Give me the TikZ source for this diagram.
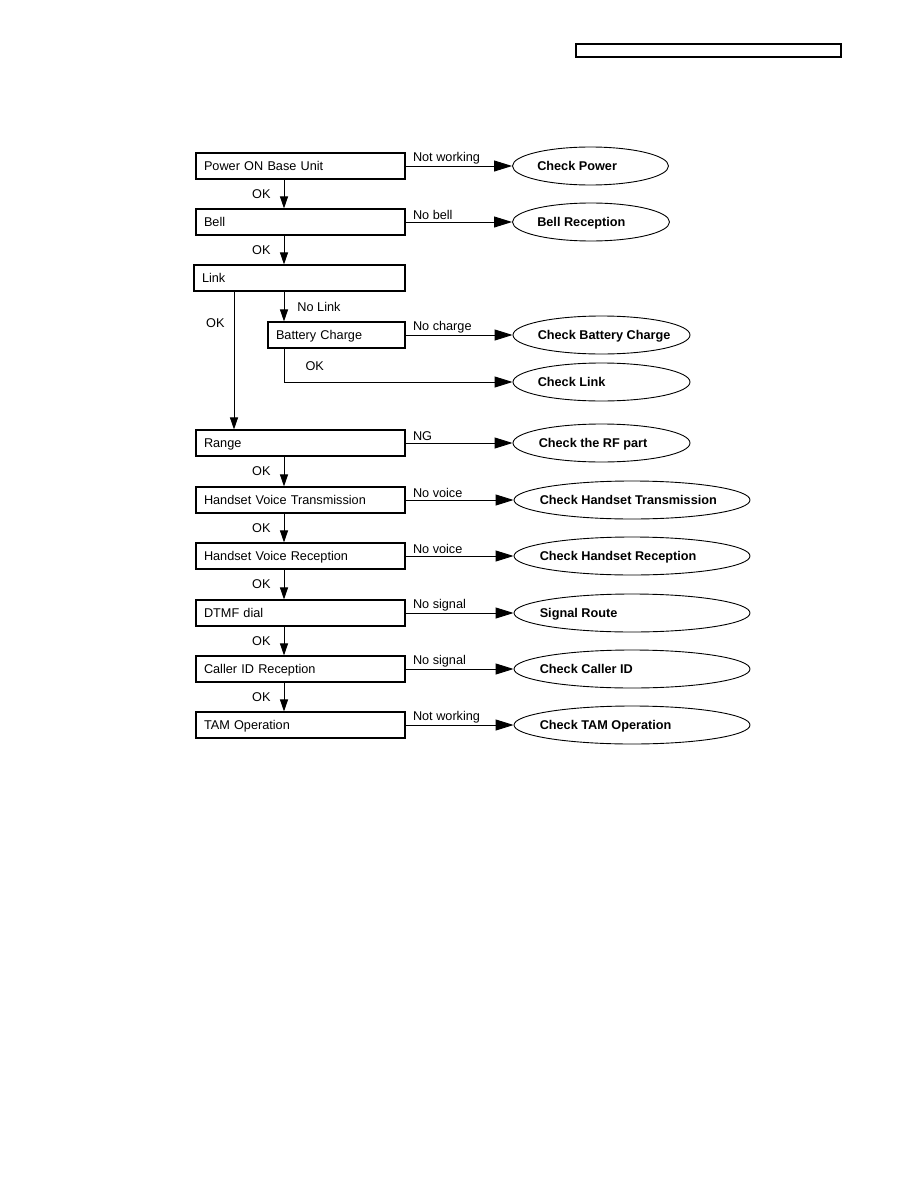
\documentclass[tikz,border=0pt]{standalone}
\usepackage{fontspec}
\setmainfont{Liberation Sans}
\usepackage{tikz}
\usetikzlibrary{shapes.geometric, arrows.meta, positioning, calc}
\newcommand{\diagfont}{\fontsize{12.7}{15}\selectfont}

\begin{document}
\begin{tikzpicture}[x=1pt, y=-1pt,
    stepbox/.style={draw, line width=1.1pt, rectangle, minimum height=26pt, text width=193pt,
      inner xsep=8pt, inner ysep=0pt, align=left, font=\diagfont, text height=9.1pt, text depth=0pt},
    chk/.style={draw, ellipse, line width=0.9pt, minimum height=38pt, inner sep=0pt},
    chktxt/.style={anchor=west, inner sep=0pt, font=\diagfont\bfseries, text height=9.1pt, text depth=0pt},
    harr/.style={line width=0.9pt, -{Triangle[length=18pt, width=11pt]}},
    varr/.style={line width=0.9pt, -{Triangle[length=12pt, width=8pt]}},
    lbl/.style={font=\diagfont, inner sep=1pt, anchor=south west, xshift=6pt, yshift=0.7pt},
    oklbl/.style={font=\diagfont, inner sep=1pt, anchor=east, xshift=-12pt}]
        \useasboundingbox (0,0) rectangle (918,1188);

        % header strip
        \draw[line width=1.1pt] (576,44) rectangle (841,57);

        % test steps
        \node[stepbox] (pwr) at (300.5,166) {Power ON Base Unit};
        \node[stepbox] (bell) at (300.5,222) {Bell};
        \node[stepbox, text width=195pt] (link) at (299.5,278) {Link};
        \node[stepbox, text width=121pt] (batt) at (336.5,335) {Battery Charge};
        \node[stepbox] (range) at (300.5,443) {Range};
        \node[stepbox] (hvt) at (300.5,500) {Handset Voice Transmission};
        \node[stepbox] (hvr) at (300.5,556) {Handset Voice Reception};
        \node[stepbox] (dtmf) at (300.5,613) {DTMF dial};
        \node[stepbox] (cid) at (300.5,669) {Caller ID Reception};
        \node[stepbox] (tam) at (300.5,725) {TAM Operation};

        % checks
        \node[chk, minimum width=156pt] (cpwr) at (590.5,166) {};
        \node[chktxt] (cpwrt) at ([xshift=25pt]cpwr.west) {Check Power};
        \node[chk, minimum width=157pt] (cbell) at (591,222) {};
        \node[chktxt] (cbellt) at ([xshift=25pt]cbell.west) {Bell Reception};
        \node[chk, minimum width=177pt] (cbatt) at (601.5,335) {};
        \node[chktxt] (cbattt) at ([xshift=25pt]cbatt.west) {Check Battery Charge};
        \node[chk, minimum width=177pt] (clink) at (601.5,382) {};
        \node[chktxt] (clinkt) at ([xshift=25pt]clink.west) {Check Link};
        \node[chk, minimum width=177pt] (crf) at (601.5,443) {};
        \node[chktxt] (crft) at ([xshift=26pt]crf.west) {Check the RF part};
        \node[chk, minimum width=236pt] (chvt) at (632,500) {};
        \node[chktxt] (chvtt) at ([xshift=26pt]chvt.west) {Check Handset Transmission};
        \node[chk, minimum width=236pt] (chvr) at (632,556) {};
        \node[chktxt] (chvrt) at ([xshift=26pt]chvr.west) {Check Handset Reception};
        \node[chk, minimum width=236pt] (csig) at (632,613) {};
        \node[chktxt] (csigt) at ([xshift=26pt]csig.west) {Signal Route};
        \node[chk, minimum width=236pt] (ccid) at (632,669) {};
        \node[chktxt] (ccidt) at ([xshift=26pt]ccid.west) {Check Caller ID};
        \node[chk, minimum width=236pt] (ctam) at (632,725) {};
        \node[chktxt] (ctamt) at ([xshift=26pt]ctam.west) {Check TAM Operation};

        % fault branches
        \draw[harr] (pwr) -- node[lbl, pos=0] (l1) {Not working} (cpwr);
        \draw[harr] (bell) -- node[lbl, pos=0] (l2) {No bell} (cbell);
        \draw[harr] (batt) -- node[lbl, pos=0] (l3) {No charge} (cbatt);
        \draw[harr] (range) -- node[lbl, pos=0] (l4) {NG} (crf);
        \draw[harr] (hvt) -- node[lbl, pos=0] (l5) {No voice} (chvt);
        \draw[harr] (hvr) -- node[lbl, pos=0] (l6) {No voice} (chvr);
        \draw[harr] (dtmf) -- node[lbl, pos=0] (l7) {No signal} (csig);
        \draw[harr] (cid) -- node[lbl, pos=0] (l8) {No signal} (ccid);
        \draw[harr] (tam) -- node[lbl, pos=0] (l9) {Not working} (ctam);

        % OK chain
        \coordinate (ax) at (284,0);
        \coordinate (bx) at (234,0);
        \draw[varr] (pwr.south -| ax) -- node[oklbl] (ok1) {OK} (bell.north -| ax);
        \draw[varr] (bell.south -| ax) -- node[oklbl] (ok2) {OK} (link.north -| ax);
        \draw[varr] (link.south -| ax) -- node[font=\diagfont, inner sep=1pt, anchor=west, xshift=12pt] (nolink) {No Link} (batt.north -| ax);
        \draw[harr] (batt.south -| ax) |- node[font=\diagfont, inner sep=1pt, anchor=south west, pos=0.544, yshift=9.5pt] (ok3) {OK} (clink.west);
        \draw[varr] (link.south -| bx) -- node[font=\diagfont, inner sep=1pt, anchor=east, pos=0.23, xshift=-8pt] (ok4) {OK} (range.north -| bx);
        \draw[varr] (range.south -| ax) -- node[oklbl] (ok5) {OK} (hvt.north -| ax);
        \draw[varr] (hvt.south -| ax) -- node[oklbl] (ok6) {OK} (hvr.north -| ax);
        \draw[varr] (hvr.south -| ax) -- node[oklbl] (ok7) {OK} (dtmf.north -| ax);
        \draw[varr] (dtmf.south -| ax) -- node[oklbl] (ok8) {OK} (cid.north -| ax);
        \draw[varr] (cid.south -| ax) -- node[oklbl] (ok9) {OK} (tam.north -| ax);
    \end{tikzpicture}
\end{document}
